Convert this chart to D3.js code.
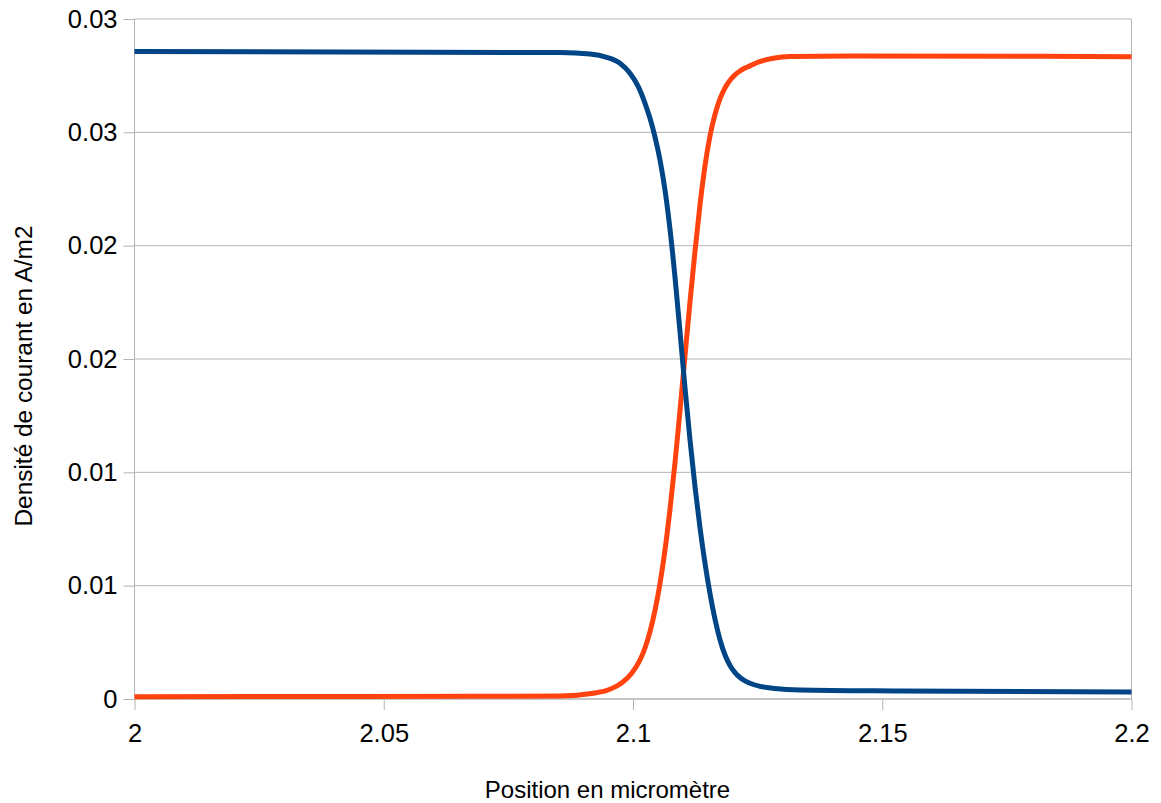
<!DOCTYPE html>
<html lang="fr">
<head>
<meta charset="utf-8">
<title>Densité de courant</title>
<script src="https://cdn.jsdelivr.net/npm/d3@7"></script>
<style>
  html, body { margin: 0; padding: 0; background: #ffffff; }
  svg { display: block; }
  text { font-family: "Liberation Sans", Arial, sans-serif; fill: #000000; }
</style>
</head>
<body>
<svg id="chart" width="1161" height="803"></svg>
<script>
// Série 1 (bleue) : densité de courant décroissante
const positionsSerie1 = [2.0, 2.08536, 2.09137, 2.09472, 2.09739, 2.0994, 2.10106, 2.10241,
  2.10341, 2.10441, 2.10542, 2.10642, 2.10742, 2.10843, 2.10943, 2.11043, 2.11143, 2.11244,
  2.11344, 2.11444, 2.11545, 2.11645, 2.11745, 2.11846, 2.11946, 2.12046, 2.12146, 2.12247,
  2.12347, 2.12548, 2.12849, 2.1335, 2.15356, 2.2];
const valeursSerie1 = [0.028566, 0.028522, 0.028456, 0.02831, 0.028046, 0.027604, 0.027013, 0.026281,
  0.025619, 0.024803, 0.023775, 0.022451, 0.020731, 0.0186, 0.016196, 0.013734, 0.01144, 0.009366,
  0.007557, 0.005991, 0.004646, 0.003521, 0.002616, 0.001941, 0.001478, 0.001165, 0.000949, 0.000799,
  0.000693, 0.00056, 0.000463, 0.000397, 0.000353, 0.000309];

// Série 2 (orange) : densité de courant croissante
const positionsSerie2 = [2.0, 2.04524, 2.08536, 2.09204, 2.09539, 2.09806, 2.09974, 2.1014,
  2.10241, 2.10341, 2.10441, 2.10542, 2.10642, 2.10742, 2.10843, 2.10943, 2.11043, 2.11143,
  2.11244, 2.11344, 2.11444, 2.11545, 2.11645, 2.11745, 2.11846, 2.11946, 2.12046, 2.12146,
  2.12247, 2.12347, 2.12481, 2.12814, 2.13149, 2.14353, 2.2];
const valeursSerie2 = [0.000097, 0.000115, 0.000132, 0.000251, 0.000428, 0.000763, 0.001134, 0.001721,
  0.00225, 0.002969, 0.003909, 0.0051, 0.006578, 0.008365, 0.010438, 0.012732, 0.015137, 0.017519,
  0.019769, 0.021799, 0.023519, 0.024843, 0.025791, 0.026475, 0.02696, 0.027296, 0.027534, 0.027706,
  0.027834, 0.027931, 0.028072, 0.028266, 0.028346, 0.028368, 0.028337];

// Graduations
const ticksX = [2, 2.05, 2.1, 2.15, 2.2];
const labelsX = ["2", "2.05", "2.1", "2.15", "2.2"];
const ticksY = [0, 0.005, 0.01, 0.015, 0.02, 0.025, 0.03];
const labelsY = ["0", "0.01", "0.01", "0.02", "0.02", "0.03", "0.03"];

const titreX = "Position en micromètre";
const titreY = "Densité de courant en A/m2";

const couleurSerie1 = "#004586";
const couleurSerie2 = "#ff420e";
const couleurGrille = "#b3b3b3";

const zone = { left: 134.5, right: 1131.5, top: 19, bottom: 699 };

const svg = d3.select("#chart");

const x = d3.scaleLinear().domain([2, 2.2]).range([zone.left, zone.right]);
const y = d3.scaleLinear().domain([0, 0.03]).range([zone.bottom, zone.top]);

// Lignes de grille horizontales
svg.append("g")
  .selectAll("line")
  .data(ticksY)
  .join("line")
  .attr("x1", zone.left)
  .attr("x2", zone.right)
  .attr("y1", d => y(d))
  .attr("y2", d => y(d))
  .attr("stroke", couleurGrille)
  .attr("stroke-width", 1);

// Bord droit de la zone de tracé
svg.append("line")
  .attr("x1", zone.right).attr("x2", zone.right)
  .attr("y1", zone.top).attr("y2", zone.bottom)
  .attr("stroke", couleurGrille).attr("stroke-width", 1);

// Axe des ordonnées
const axeY = d3.axisLeft(y)
  .tickValues(ticksY)
  .tickFormat((d, i) => labelsY[i])
  .tickSize(11)
  .tickPadding(6);

const gY = svg.append("g")
  .attr("transform", `translate(${zone.left},0)`)
  .call(axeY);
gY.select(".domain").attr("stroke", couleurGrille).attr("d", `M0,${zone.top}V${zone.bottom}`);
gY.selectAll(".tick line").attr("stroke", couleurGrille);
gY.selectAll(".tick text")
  .attr("font-size", "25.5px")
  .attr("font-family", "'Liberation Sans', Arial, sans-serif")
  .attr("fill", "#000");

// Axe des abscisses
const axeX = d3.axisBottom(x)
  .tickValues(ticksX)
  .tickFormat((d, i) => labelsX[i])
  .tickSize(11)
  .tickPadding(0);

const gX = svg.append("g")
  .attr("transform", `translate(0,${zone.bottom})`)
  .call(axeX);
gX.select(".domain").attr("stroke", couleurGrille).attr("d", `M${zone.left},0H${zone.right}`);
gX.selectAll(".tick line").attr("stroke", couleurGrille);
gX.selectAll(".tick text")
  .attr("font-size", "25.5px")
  .attr("font-family", "'Liberation Sans', Arial, sans-serif")
  .attr("fill", "#000")
  .attr("dy", null)
  .attr("y", 43);

// Courbes
const ligne = d3.line()
  .x(d => x(d[0]))
  .y(d => y(d[1]))
  .curve(d3.curveMonotoneX);

const donnees2 = d3.zip(positionsSerie2, valeursSerie2);
const donnees1 = d3.zip(positionsSerie1, valeursSerie1);

svg.append("path")
  .datum(donnees2)
  .attr("d", ligne)
  .attr("fill", "none")
  .attr("stroke", couleurSerie2)
  .attr("stroke-width", 5)
  .attr("stroke-linejoin", "round");

svg.append("path")
  .datum(donnees1)
  .attr("d", ligne)
  .attr("fill", "none")
  .attr("stroke", couleurSerie1)
  .attr("stroke-width", 5)
  .attr("stroke-linejoin", "round");

// Titres des axes
svg.append("text")
  .attr("x", 607.5)
  .attr("y", 798)
  .attr("text-anchor", "middle")
  .attr("font-size", "24px")
  .text(titreX);

svg.append("text")
  .attr("transform", "translate(32,376) rotate(-90)")
  .attr("text-anchor", "middle")
  .attr("font-size", "24.4px")
  .text(titreY);
</script>
</body>
</html>
